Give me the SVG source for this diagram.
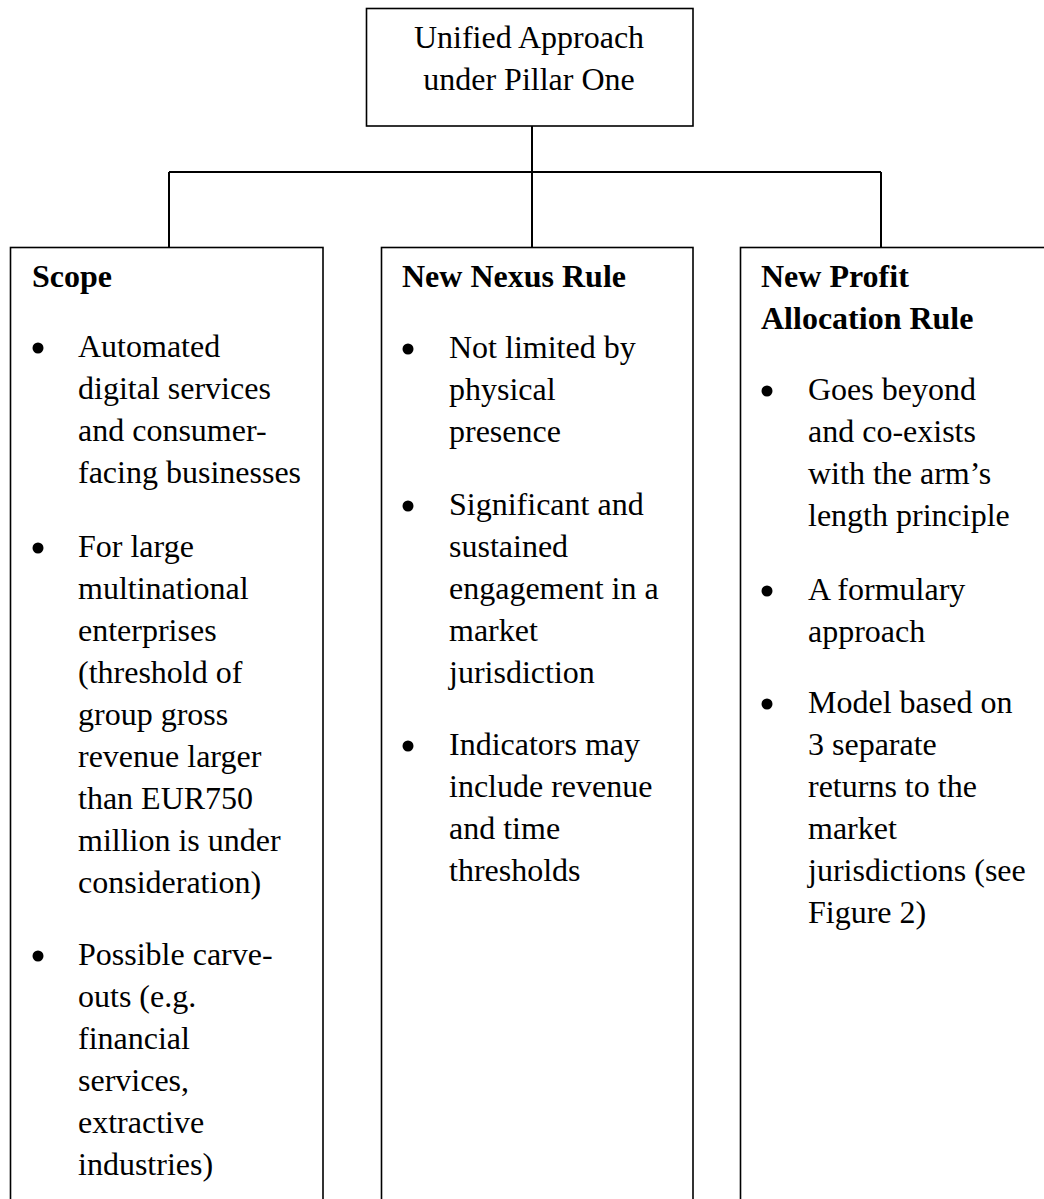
<svg xmlns="http://www.w3.org/2000/svg" width="1044" height="1199" viewBox="0 0 1044 1199">
  <defs>
    <style>
      .box { fill: #ffffff; stroke: #000000; stroke-width: 1.6; }
      .wire { fill: none; stroke: #000000; stroke-width: 2; }
      text { font-family: "Liberation Serif", "Times New Roman", serif; font-size: 32px; fill: #000000; }
      .title { font-weight: bold; }
      .center { text-anchor: middle; }
    </style>
    <circle id="dot" r="5.5" fill="#000000"/>
  </defs>
  <rect width="1044" height="1199" fill="#ffffff"/>

  <!-- connectors -->
  <g id="connectors">
    <path class="wire" d="M532,126 V247"/>
    <path class="wire" d="M169,172 H881"/>
    <path class="wire" d="M169,172 V247"/>
    <path class="wire" d="M881,172 V247"/>
  </g>

  <!-- root -->
  <g id="root">
    <rect class="box" x="366.5" y="8.5" width="326.5" height="117.5"/>
    <text class="center" x="529" y="48">Unified Approach</text>
    <text class="center" x="529" y="90">under Pillar One</text>
  </g>

  <!-- scope column -->
  <g id="scope">
    <rect class="box" x="10.5" y="247.5" width="312.5" height="980"/>
    <text class="title" x="32" y="287">Scope</text>
    <use href="#dot" x="38" y="348"/>
    <text x="78" y="357">Automated</text>
    <text x="78" y="399">digital services</text>
    <text x="78" y="441">and consumer-</text>
    <text x="78" y="483">facing businesses</text>
    <use href="#dot" x="38" y="548"/>
    <text x="78" y="557">For large</text>
    <text x="78" y="599">multinational</text>
    <text x="78" y="641">enterprises</text>
    <text x="78" y="683">(threshold of</text>
    <text x="78" y="725">group gross</text>
    <text x="78" y="767">revenue larger</text>
    <text x="78" y="809">than EUR750</text>
    <text x="78" y="851">million is under</text>
    <text x="78" y="893">consideration)</text>
    <use href="#dot" x="38" y="956"/>
    <text x="78" y="965">Possible carve-</text>
    <text x="78" y="1007">outs (e.g.</text>
    <text x="78" y="1049">financial</text>
    <text x="78" y="1091">services,</text>
    <text x="78" y="1133">extractive</text>
    <text x="78" y="1175">industries)</text>
  </g>

  <!-- nexus column -->
  <g id="nexus">
    <rect class="box" x="381.5" y="247.5" width="311.5" height="980"/>
    <text class="title" x="402" y="287">New Nexus Rule</text>
    <use href="#dot" x="408" y="349"/>
    <text x="449" y="358">Not limited by</text>
    <text x="449" y="400">physical</text>
    <text x="449" y="442">presence</text>
    <use href="#dot" x="408" y="506"/>
    <text x="449" y="515">Significant and</text>
    <text x="449" y="557">sustained</text>
    <text x="449" y="599">engagement in a</text>
    <text x="449" y="641">market</text>
    <text x="449" y="683">jurisdiction</text>
    <use href="#dot" x="408" y="746"/>
    <text x="449" y="755">Indicators may</text>
    <text x="449" y="797">include revenue</text>
    <text x="449" y="839">and time</text>
    <text x="449" y="881">thresholds</text>
  </g>

  <!-- profit allocation column -->
  <g id="profit">
    <rect class="box" x="740.5" y="247.5" width="340" height="980"/>
    <text class="title" x="761" y="287">New Profit</text>
    <text class="title" x="761" y="329">Allocation Rule</text>
    <use href="#dot" x="767" y="391"/>
    <text x="808" y="400">Goes beyond</text>
    <text x="808" y="442">and co-exists</text>
    <text x="808" y="484">with the arm’s</text>
    <text x="808" y="526">length principle</text>
    <use href="#dot" x="767" y="591"/>
    <text x="808" y="600">A formulary</text>
    <text x="808" y="642">approach</text>
    <use href="#dot" x="767" y="704"/>
    <text x="808" y="713">Model based on</text>
    <text x="808" y="755">3 separate</text>
    <text x="808" y="797">returns to the</text>
    <text x="808" y="839">market</text>
    <text x="808" y="881">jurisdictions (see</text>
    <text x="808" y="923">Figure 2)</text>
  </g>
</svg>
